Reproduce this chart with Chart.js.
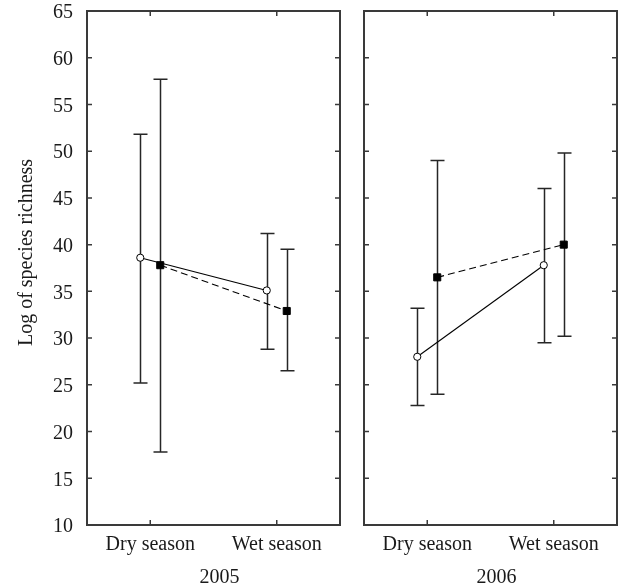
<!DOCTYPE html>
<html>
<head>
<meta charset="utf-8">
<script src="https://cdn.jsdelivr.net/npm/chart.js@4/dist/chart.umd.min.js"></script>
<style>
  html, body { margin: 0; padding: 0; background: #fff; }
  #wrap { position: relative; width: 619px; height: 588px; overflow: hidden; }
  canvas { position: absolute; top: 0; }
  #c2005 { left: 0; }
  #c2006 { left: 352px; }
</style>
</head>
<body>
<div id="wrap">
  <canvas id="c2005" width="352" height="588"></canvas>
  <canvas id="c2006" width="271" height="588"></canvas>
</div>
<script>
// Categories and axis ticks
const categories = ['Dry season', 'Wet season'];
const years = ['2005', '2006'];
const yTickValues = [10, 15, 20, 25, 30, 35, 40, 45, 50, 55, 60, 65];
const yTitle = 'Log of species richness';

// 2005 — open circles (solid line)
const circle2005 = [38.6, 35.1];
const circle2005Low = [25.2, 28.8];
const circle2005High = [51.8, 41.2];
// 2005 — filled squares (dashed line)
const square2005 = [37.8, 32.9];
const square2005Low = [17.8, 26.5];
const square2005High = [57.7, 39.5];

// 2006 — open circles (solid line)
const circle2006 = [28.0, 37.8];
const circle2006Low = [22.8, 29.5];
const circle2006High = [33.2, 46.0];
// 2006 — filled squares (dashed line)
const square2006 = [36.5, 40.0];
const square2006Low = [24.0, 30.2];
const square2006High = [49.0, 49.8];

const FONT = '"Liberation Serif", "Times New Roman", serif';
const INK = '#1a1a1a';
const FRAME = '#3a3a3a';
const DODGE = 0.079;   // horizontal offset of the two series around each category
const TICK_LEN = 5;
const CAP = 7;

Chart.defaults.font.family = FONT;
Chart.defaults.font.size = 20;
Chart.defaults.color = INK;

function points(values, shift) {
  return values.map((v, i) => ({ x: i + 0.5 + shift, y: v }));
}

// Error bars under the markers
const errorBars = {
  id: 'errorBars',
  beforeDatasetsDraw(chart) {
    const ctx = chart.ctx;
    const xs = chart.scales.x, ys = chart.scales.y;
    ctx.save();
    ctx.strokeStyle = '#262626';
    ctx.lineWidth = 1.5;
    chart.data.datasets.forEach(ds => {
      ds.data.forEach((p, i) => {
        const x = Math.round(xs.getPixelForValue(p.x)) + 0.5;
        const yl = ys.getPixelForValue(ds.low[i]);
        const yh = ys.getPixelForValue(ds.high[i]);
        ctx.beginPath();
        ctx.moveTo(x, yl); ctx.lineTo(x, yh);
        ctx.moveTo(x - CAP, yl); ctx.lineTo(x + CAP, yl);
        ctx.moveTo(x - CAP, yh); ctx.lineTo(x + CAP, yh);
        ctx.stroke();
      });
    });
    ctx.restore();
  }
};

// Box frame with inward ticks, year label and y title
const frame = {
  id: 'frame',
  afterDraw(chart, args, opts) {
    const ctx = chart.ctx;
    const { left, right, top, bottom } = chart.chartArea;
    const xs = chart.scales.x, ys = chart.scales.y;
    ctx.save();
    ctx.strokeStyle = FRAME;
    ctx.lineWidth = 2;
    ctx.strokeRect(left, top, right - left, bottom - top);
    ctx.lineWidth = 1.5;
    ctx.beginPath();
    ys.ticks.forEach(t => {
      const y = ys.getPixelForValue(t.value);
      if (t.value === ys.min || t.value === ys.max) return;
      ctx.moveTo(left, y); ctx.lineTo(left + TICK_LEN, y);
      ctx.moveTo(right, y); ctx.lineTo(right - TICK_LEN, y);
    });
    xs.ticks.forEach(t => {
      const x = xs.getPixelForValue(t.value);
      ctx.moveTo(x, top); ctx.lineTo(x, top + TICK_LEN);
      ctx.moveTo(x, bottom); ctx.lineTo(x, bottom - TICK_LEN);
    });
    ctx.stroke();

    ctx.fillStyle = INK;
    ctx.font = '20px ' + FONT;
    ctx.textAlign = 'center';
    ctx.textBaseline = 'alphabetic';
    ctx.fillText(opts.year, (left + right) / 2 + 6, 583);

    if (opts.yTitle) {
      ctx.translate(32, 252.5);
      ctx.rotate(-Math.PI / 2);
      ctx.fillText(opts.yTitle, 0, 0);
    }
    ctx.restore();
  }
};

function buildPanel(id, cfg) {
  return new Chart(document.getElementById(id), {
    type: 'line',
    data: {
      datasets: [
        {
          data: points(cfg.circle, -DODGE),
          low: cfg.circleLow, high: cfg.circleHigh,
          borderColor: '#000', borderWidth: 1.1,
          pointStyle: 'circle', pointRadius: 3.6,
          pointBackgroundColor: '#fff', pointBorderColor: '#000', pointBorderWidth: 1
        },
        {
          data: points(cfg.square, DODGE),
          low: cfg.squareLow, high: cfg.squareHigh,
          borderColor: '#000', borderWidth: 1.1, borderDash: [7, 4],
          pointStyle: 'rect', pointRadius: 5,
          pointBackgroundColor: '#000', pointBorderColor: '#000', pointBorderWidth: 1
        }
      ]
    },
    options: {
      responsive: false,
      animation: false,
      devicePixelRatio: 1,
      layout: { padding: { left: 0, right: cfg.padRight, top: 11, bottom: 0 } },
      plugins: {
        legend: { display: false },
        tooltip: { enabled: false },
        frame: { year: cfg.year, yTitle: cfg.yTitle }
      },
      scales: {
        x: {
          type: 'linear', min: 0, max: 2,
          grid: { display: false, drawTicks: false },
          border: { display: false },
          afterBuildTicks: s => { s.ticks = categories.map((c, i) => ({ value: i + 0.5 })); },
          ticks: {
            padding: 8,
            maxRotation: 0,
            callback: (v, i) => categories[i]
          },
          afterFit: s => { s.height = 63; s.paddingLeft = 0; s.paddingRight = 0; }
        },
        y: {
          type: 'linear', min: 10, max: 65,
          grid: { display: false, drawTicks: false },
          border: { display: false },
          afterBuildTicks: s => { s.ticks = yTickValues.map(v => ({ value: v })); },
          ticks: { display: cfg.showY, padding: 14, labelOffset: 2 },
          afterFit: s => { s.width = cfg.axisWidth; s.paddingTop = 0; s.paddingBottom = 0; }
        }
      }
    },
    plugins: [errorBars, frame]
  });
}

buildPanel('c2005', {
  circle: circle2005, circleLow: circle2005Low, circleHigh: circle2005High,
  square: square2005, squareLow: square2005Low, squareHigh: square2005High,
  year: years[0], yTitle: yTitle, showY: true, axisWidth: 87, padRight: 12
});

buildPanel('c2006', {
  circle: circle2006, circleLow: circle2006Low, circleHigh: circle2006High,
  square: square2006, squareLow: square2006Low, squareHigh: square2006High,
  year: years[1], yTitle: null, showY: false, axisWidth: 12, padRight: 6
});
</script>
</body>
</html>
